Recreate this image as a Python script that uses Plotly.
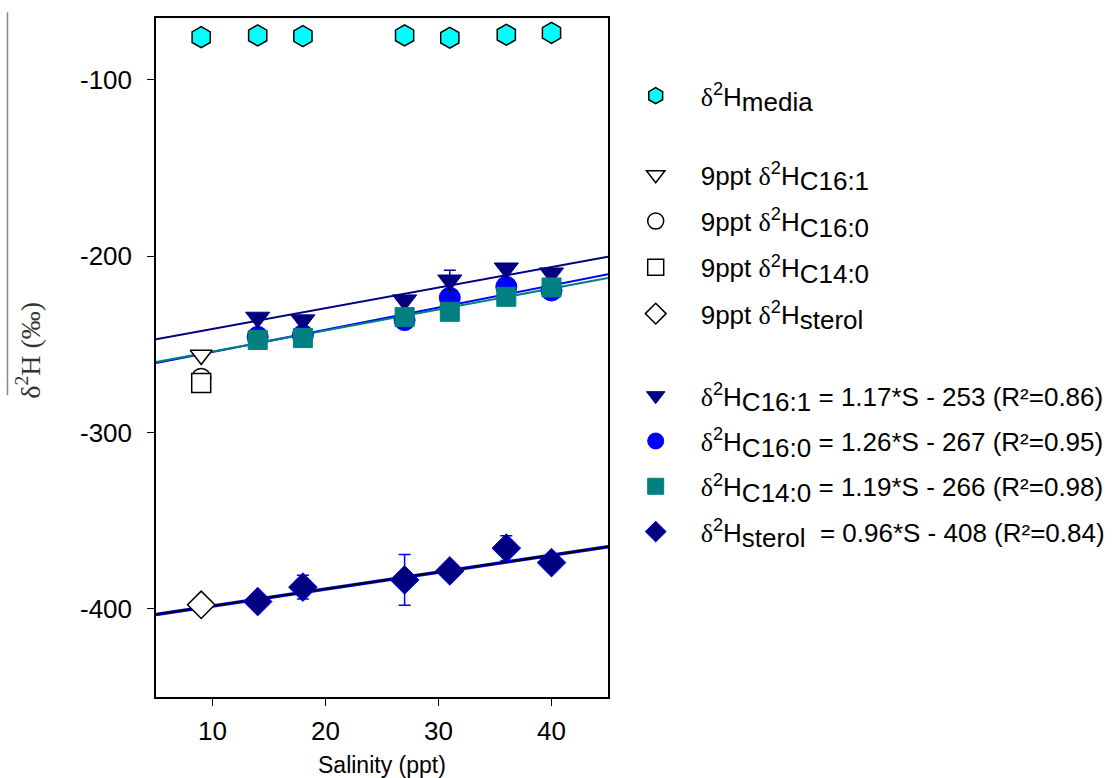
import plotly.graph_objects as go

# ---------------- data ----------------
media_salinity = [9, 14, 18, 27, 31, 36, 40]
media_d2h = [-75.9, -74.9, -75.3, -74.9, -76.2, -74.5, -73.4]

salinity = [14, 18, 27, 31, 36, 40]
c161 = [-234.8, -236.3, -225.0, -213.7, -206.9, -209.7]
c161_err = [0, 0, 0, 5.7, 0, 0]
c160 = [-245.8, -244.8, -236.3, -223.6, -217.4, -219.5]
c140 = [-247.6, -246.5, -234.6, -231.6, -223.1, -217.8]
sterol = [-395.9, -387.7, -383.6, -378.5, -365.6, -373.8]
sterol_err = [0, 6.7, 14.4, 0, 7.0, 0]

ppt9_salinity = [9]
ppt9_c161 = [-256.1]
ppt9_c160 = [-269.1]
ppt9_c140 = [-272.0]
ppt9_sterol = [-397.7]

fit_x = [5, 45]
fit_names = ["C16:1", "C16:0", "C14:0", "sterol"]
fit_slope = [1.17, 1.26, 1.19, 0.96]
fit_intercept = [-253, -267, -266, -408]
fit_r2 = [0.86, 0.95, 0.98, 0.84]

x_ticks = [10, 20, 30, 40]
x_ticktext = ["10", "20", "30", "40"]
y_ticks = [-100, -200, -300, -400]
y_ticktext = ["-100", "-200", "-300", "-400"]

# ---------------- styling ----------------
NAVY = "#000080"
BLUE = "#0000FF"
TEAL = "#008080"
CYAN = "#00FFFF"
SANS = "Liberation Sans, Arial, sans-serif"
SERIF = "Liberation Serif, Times New Roman, serif"
D = "<span style='font-family:Liberation Serif'>δ</span><sup>2</sup>H"
LFS = 26


def sub(t):
    return "<sub><span style='font-size:%dpx'>%s</span></sub>" % (LFS, t)


fig = go.Figure()

# fitted lines
fit_colors = [NAVY, BLUE, TEAL, BLUE]
fit_widths = [2, 2, 2, 3.5]
for name, m, b, c, w in zip(fit_names, fit_slope, fit_intercept, fit_colors, fit_widths):
    fig.add_trace(go.Scatter(x=fit_x, y=[m * xx + b for xx in fit_x], mode="lines",
                             line=dict(color=c, width=w), showlegend=False, hoverinfo="skip"))
# black sterol line over blue
fig.add_trace(go.Scatter(x=fit_x, y=[fit_slope[3] * xx + fit_intercept[3] for xx in fit_x],
                         mode="lines", line=dict(color="black", width=1.8),
                         showlegend=False, hoverinfo="skip"))

# media
fig.add_trace(go.Scatter(x=media_salinity, y=media_d2h, mode="markers",
                         marker=dict(symbol="hexagon", size=21, color=CYAN,
                                     line=dict(color="black", width=1.5)),
                         name=D + sub("media"), legend="legend", legendgroup="m",
                         legendrank=1))

# 9 ppt open markers
open_specs = [
    (ppt9_c161, "triangle-down", "C16:1", 2),
    (ppt9_c160, "circle", "C16:0", 3),
    (ppt9_c140, "square", "C14:0", 4),
    (ppt9_sterol, "diamond", "sterol", 5),
]
for vals, sym, lab, rank in open_specs:
    fig.add_trace(go.Scatter(x=ppt9_salinity, y=vals, mode="markers",
                             marker=dict(symbol=sym, size=19 if sym != "diamond" else 21,
                                         color="white", line=dict(color="black", width=1.5)),
                             name="9ppt " + D + sub(lab), legend="legend2",
                             legendgroup="o" + lab, legendrank=rank))


def eq_text(i, pad=""):
    return (D + sub(fit_names[i]) + pad + " = %.2f*S - %d (R²=%.2f)"
            % (fit_slope[i], -fit_intercept[i], fit_r2[i]))


# filled markers (draw order: circles, triangles, squares, diamonds)
fig.add_trace(go.Scatter(x=salinity, y=c160, mode="markers",
                         marker=dict(symbol="circle", size=21, color=BLUE,
                                     line=dict(color=BLUE, width=1)),
                         name=eq_text(1), legend="legend3", legendgroup="f2", legendrank=7))
fig.add_trace(go.Scatter(x=salinity, y=c161, mode="markers",
                         error_y=dict(type="data", array=c161_err, visible=True,
                                      color=NAVY, thickness=1.5, width=6),
                         marker=dict(symbol="triangle-down", size=21, color=NAVY,
                                     line=dict(color=NAVY, width=1)),
                         name=eq_text(0), legend="legend3", legendgroup="f1", legendrank=6))
fig.add_trace(go.Scatter(x=salinity, y=c140, mode="markers",
                         marker=dict(symbol="square", size=19, color=TEAL,
                                     line=dict(color=TEAL, width=1)),
                         name=eq_text(2), legend="legend3", legendgroup="f3", legendrank=8))
fig.add_trace(go.Scatter(x=salinity, y=sterol, mode="markers",
                         error_y=dict(type="data", array=sterol_err, visible=True,
                                      color=BLUE, thickness=1.5, width=6),
                         marker=dict(symbol="diamond", size=22, color=NAVY,
                                     line=dict(color=BLUE, width=1)),
                         name=eq_text(3, "\u00a0"), legend="legend3", legendgroup="f4",
                         legendrank=9))

W, H = 1117, 778
L, R, T, B = 155.7, 608.3, 17.7, 696.7


def px(x):
    return (x - L) / (R - L)


def py(y):
    return 1 - (y - T) / (B - T)


leg_common = dict(xanchor="left", yanchor="top", bgcolor="rgba(0,0,0,0)",
                  font=dict(family=SANS, size=LFS, color="black"),
                  itemwidth=80, traceorder="grouped",
                  borderwidth=0)

fig.update_layout(
    width=W, height=H,
    margin=dict(l=L, r=W - R, t=T, b=H - B, autoexpand=False),
    paper_bgcolor="white", plot_bgcolor="white",
    showlegend=True,
    legend=dict(x=px(611), y=py(72), tracegroupgap=8, **leg_common),
    legend2=dict(x=px(611), y=py(151), tracegroupgap=9.5, **leg_common),
    legend3=dict(x=px(611), y=py(372), tracegroupgap=8.5, **leg_common),
    xaxis=dict(range=[5, 45], tickvals=x_ticks, ticktext=x_ticktext, ticks="outside",
               ticklen=7, tickwidth=1.2, tickcolor="black", showline=True, mirror=True,
               linecolor="black", linewidth=1.5, showgrid=False, zeroline=False,
               tickfont=dict(family=SANS, size=26, color="black"),
               ticklabelstandoff=3),
    yaxis=dict(range=[-450, -65], tickvals=y_ticks, ticktext=y_ticktext, ticks="outside",
               ticklen=7, tickwidth=1.2, tickcolor="black", showline=True, mirror=True,
               linecolor="black", linewidth=1.5, showgrid=False, zeroline=False,
               tickfont=dict(family=SANS, size=26, color="black"),
               ticklabelstandoff=10),
    annotations=[
        dict(text="Salinity (ppt)", xref="paper", yref="paper", x=0.5, y=py(765),
             xanchor="center", yanchor="middle", showarrow=False,
             font=dict(family=SANS, size=23, color="black")),
        dict(text="δ<sup>2</sup>H (‰)", xref="paper", yref="paper", x=px(28),
             y=py(350), xanchor="center", yanchor="middle", textangle=-90,
             showarrow=False, font=dict(family=SERIF, size=28, color="#333333")),
    ],
    shapes=[
        dict(type="line", xref="paper", yref="paper", x0=px(7), x1=px(7),
             y0=py(12), y1=py(395), line=dict(color="#888888", width=1.5)),
    ],
)

fig.write_html("out.html")
